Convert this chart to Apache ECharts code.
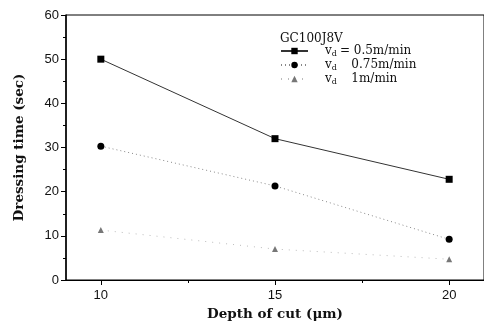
<!DOCTYPE html>
<html><head><meta charset="utf-8">
<script src="https://cdn.jsdelivr.net/npm/echarts@6/dist/echarts.min.js"></script>
<style>html,body{margin:0;padding:0;background:#fff}#c{width:484px;height:333px}</style>
</head><body><div id="c"></div>
<script>
const depths = [10, 15, 20];
const seriesNames = ['vd = 0.5m/min', 'vd = 0.75m/min', 'vd = 1m/min'];
const legendSpeeds = ['= 0.5m/min', '   0.75m/min', '   1m/min'];
const timeFast = [50, 32, 22.8];
const timeMid = [30.3, 21.3, 9.2];
const timeSlow = [11.3, 7, 4.7];
const xTicks = [10, 15, 20];
const xMinorTicks = [12.5, 17.5];

const chart = echarts.init(document.getElementById('c'));
const pair = arr => arr.map((v, i) => [depths[i], v]);
const serif = 'DejaVu Serif';
chart.setOption({
  animation: false,
  grid: { left: 66, top: 15, width: 421, height: 265, show: true, borderColor: '#000', borderWidth: 1 },
  title: { text: 'GC100J8V', left: 275, top: 28, textStyle: { fontFamily: serif, fontSize: 12, fontWeight: 'normal', color: '#111' } },
  legend: {
    orient: 'vertical', left: 275, top: 39, itemWidth: 27, itemHeight: 8, itemGap: 0,
    formatter: name => '{v|v}{s|d}{t|' + legendSpeeds[seriesNames.indexOf(name)] + '}',
    textStyle: { fontFamily: serif, fontSize: 12, color: '#111', lineHeight: 14,
      rich: {
        v: { fontFamily: serif, fontSize: 12, lineHeight: 14, padding: [0, 0, 0, 12] },
        s: { fontFamily: serif, fontSize: 8, lineHeight: 14, verticalAlign: 'bottom', padding: [0, 3, 0, 0] },
        t: { fontFamily: serif, fontSize: 12, lineHeight: 14 }
      } }
  },
  xAxis: [{
    type: 'value', min: 9, max: 21, interval: 5,
    name: 'Depth of cut (\u03bcm)', nameLocation: 'middle', nameGap: 27,
    nameTextStyle: { fontFamily: serif, fontWeight: 'bold', fontSize: 13.5, color: '#111' },
    axisLine: { lineStyle: { color: '#000', width: 1 } },
    axisTick: { show: true, length: 5, lineStyle: { color: '#000' }, customValues: xTicks },
    axisLabel: { fontFamily: 'Liberation Sans', fontSize: 13, color: '#111', margin: 9, customValues: xTicks },
    splitLine: { show: false }
  }, {
    type: 'value', min: 9, max: 21, position: 'bottom', gridIndex: 0,
    axisLine: { show: false },
    axisTick: { show: true, length: 3, lineStyle: { color: '#000' }, customValues: xMinorTicks },
    axisLabel: { show: false },
    splitLine: { show: false }
  }],
  yAxis: {
    type: 'value', min: 0, max: 60, interval: 10,
    name: 'Dressing time (sec)', nameLocation: 'middle', nameGap: 40,
    nameTextStyle: { fontFamily: serif, fontWeight: 'bold', fontSize: 13.5, color: '#111' },
    axisLine: { show: true, lineStyle: { color: '#000', width: 1.5 } },
    axisTick: { show: true, length: 5, lineStyle: { color: '#000' } },
    minorTick: { show: true, splitNumber: 2, length: 3, lineStyle: { color: '#000' } },
    axisLabel: { fontFamily: 'Liberation Sans', fontSize: 13, color: '#111', margin: 7 },
    splitLine: { show: false }
  },
  series: [
    { name: seriesNames[0], type: 'line', data: pair(timeFast), symbol: 'rect', symbolSize: 7,
      itemStyle: { color: '#000' }, lineStyle: { color: '#333', width: 1 } },
    { name: seriesNames[1], type: 'line', data: pair(timeMid), symbol: 'circle', symbolSize: 7,
      itemStyle: { color: '#000' }, lineStyle: { color: '#888', width: 1, type: [1, 3] } },
    { name: seriesNames[2], type: 'line', data: pair(timeSlow), symbol: 'triangle', symbolSize: 6,
      itemStyle: { color: '#777' }, lineStyle: { color: '#bbb', width: 1, type: [1, 6] } }
  ]
});
</script></body></html>
